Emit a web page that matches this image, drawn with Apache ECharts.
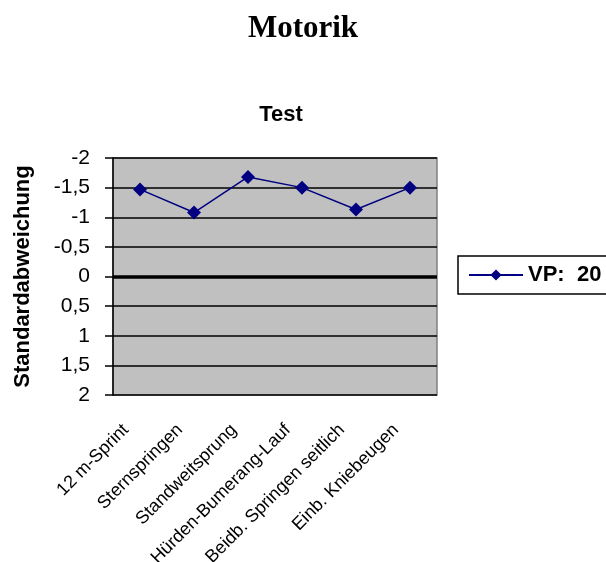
<!DOCTYPE html>
<html><head><meta charset="utf-8">
<script src="https://cdn.jsdelivr.net/npm/echarts@6/dist/echarts.min.js"></script>
<style>html,body{margin:0;padding:0;background:#fff}#c{width:606px;height:562px}</style>
</head><body><div id="c"></div>
<script>
const categories = ['12 m-Sprint','Sternspringen','Standweitsprung','Hürden-Bumerang-Lauf','Beidb. Springen seitlich','Einb. Kniebeugen'];
const seriesName = 'VP:  20';
const values = [-1.47, -1.08, -1.68, -1.5, -1.13, -1.5];
const yTicks = [-2, -1.5, -1, -0.5, 0, 0.5, 1, 1.5, 2];

const chart = echarts.init(document.getElementById('c'), null, {renderer:'canvas'});
chart.setOption({
  animation:false,
  backgroundColor:'#fff',
  title:[
    {text:'Motorik', left:'center', top:8, textStyle:{fontFamily:'Liberation Serif', fontWeight:'bold', fontSize:31, color:'#000'}},
    {text:'Test', left:276, textAlign:'center', top:99, textStyle:{fontFamily:'Liberation Sans', fontWeight:'bold', fontSize:22, color:'#000'}}
  ],
  legend:{
    left:458, top:256, orient:'vertical',
    borderColor:'#000', borderWidth:1.5, padding:[8,40,8,10],
    itemWidth:54, itemHeight:14, itemGap:5,
    textStyle:{fontFamily:'Liberation Sans', fontWeight:'bold', fontSize:22, color:'#000'},
    data:[seriesName]
  },
  grid:{left:113, right:169, top:158, bottom:167, outerBoundsMode:'none', containLabel:false,
    show:true, backgroundColor:'#C0C0C0', borderColor:'#808080', borderWidth:1.5},
  xAxis:{
    type:'category', data:categories, boundaryGap:true,
    axisLine:{show:false}, axisTick:{show:false},
    axisLabel:{rotate:45, margin:18, interval:0, padding:[0,20,0,0], fontFamily:'Liberation Sans', fontSize:18, color:'#000'}
  },
  yAxis:{
    type:'value', inverse:true, min:-2, max:2, interval:0.5,
    name:'Standardabweichung', nameLocation:'middle', nameGap:79, nameRotate:90,
    nameTextStyle:{fontFamily:'Liberation Sans', fontWeight:'bold', fontSize:22, color:'#000'},
    axisLine:{show:true, lineStyle:{color:'#000', width:1.5}},
    axisTick:{show:true, length:8, lineStyle:{color:'#000', width:1.5}},
    axisLabel:{margin:23, fontFamily:'Liberation Sans', fontSize:21, color:'#000',
      formatter:v=>String(v).replace('.',',')},
    splitLine:{show:true, lineStyle:{color:'#000', width:1.5}}
  },
  series:[{
    name:seriesName, type:'line', data:values,
    symbol:'diamond', symbolSize:14,
    itemStyle:{color:'#000080'}, lineStyle:{color:'#000080', width:1.5},
    markLine:{silent:true, symbol:['none','none'], label:{show:false},
      lineStyle:{color:'#000', width:3.5, type:'solid'},
      data:[{yAxis:0}]}
  }]
});
</script></body></html>
